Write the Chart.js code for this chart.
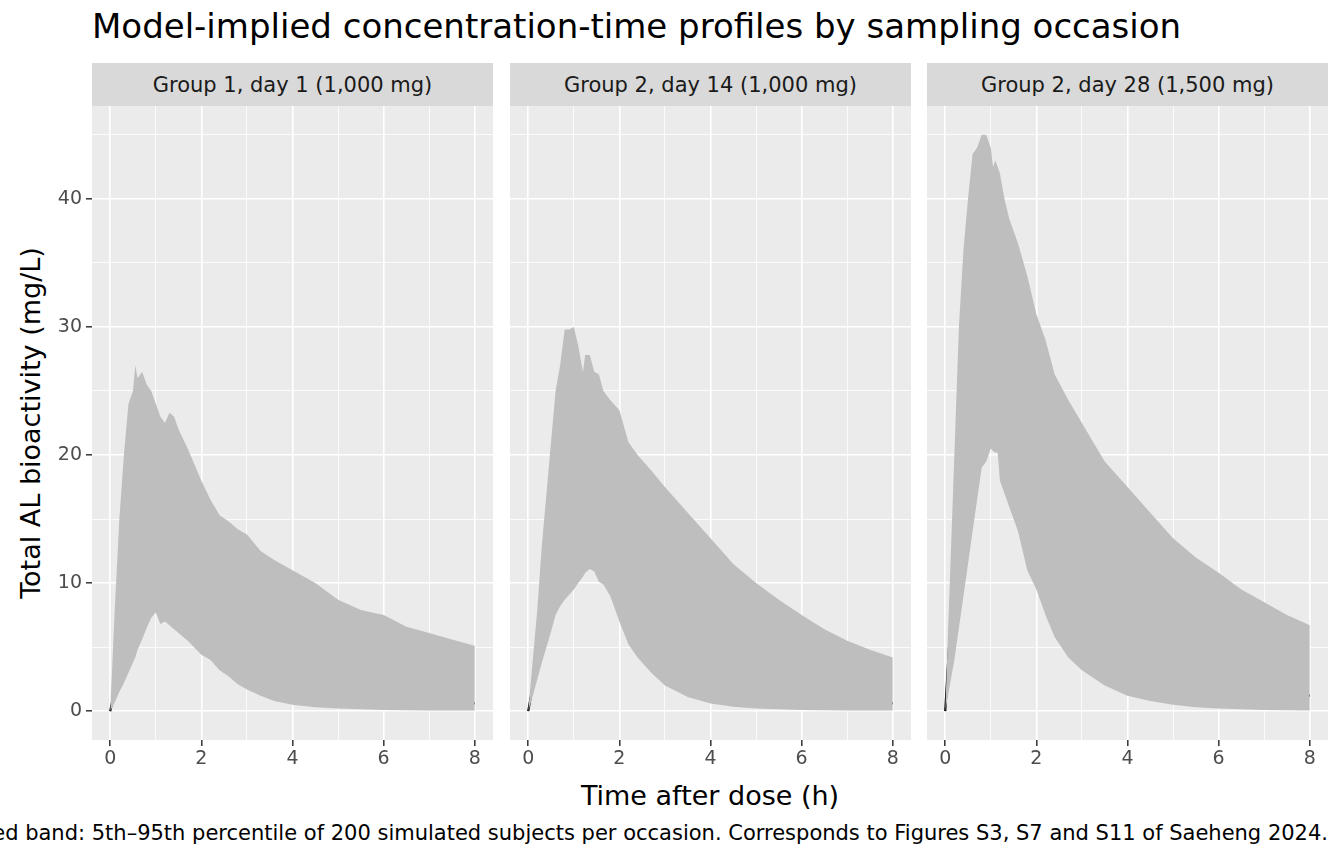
<!DOCTYPE html>
<html><head><meta charset="utf-8">
<script src="https://cdn.jsdelivr.net/npm/chart.js@4"></script>
<style>
body{margin:0;width:1344px;height:864px;background:#fff;font-family:"DejaVu Sans",sans-serif;overflow:hidden;position:relative}
.abs{position:absolute}
.strip{position:absolute;top:63px;height:43px;background:#d9d9d9;color:#1a1a1a;font-size:21px;display:flex;align-items:center;justify-content:center}
</style></head><body>
<div class="abs" style="left:92px;top:6px;font-size:34px;color:#000;white-space:nowrap">Model-implied concentration-time profiles by sampling occasion</div>
<div class="abs" style="left:0;top:423px;width:0;height:0"><div style="position:absolute;transform:translate(-50%,-50%) rotate(-90deg);left:30px;white-space:nowrap;font-size:27px">Total AL bioactivity (mg/L)</div></div>
<div class="abs" style="left:92px;width:1236px;top:780px;text-align:center;font-size:27px">Time after dose (h)</div>
<div class="abs" style="right:16px;top:821px;white-space:nowrap;font-size:21px">Shaded band: 5th–95th percentile of 200 simulated subjects per occasion. Corresponds to Figures S3, S7 and S11 of Saeheng 2024.</div>
<div class="strip" style="left:92px;width:401px">Group 1, day 1 (1,000 mg)</div>
<div class="strip" style="left:510px;width:401px">Group 2, day 14 (1,000 mg)</div>
<div class="strip" style="left:927px;width:401px">Group 2, day 28 (1,500 mg)</div>
<canvas id="c0" class="abs" style="left:0;top:106px"></canvas>
<canvas id="c1" class="abs" style="left:510px;top:106px"></canvas>
<canvas id="c2" class="abs" style="left:927px;top:106px"></canvas>
<script>
const panelTitles=["Group 1, day 1 (1,000 mg)","Group 2, day 14 (1,000 mg)","Group 2, day 28 (1,500 mg)"];
const xTicks=[0,2,4,6,8];
const yTicks=[0,10,20,30,40];
// Panel 1
const band1T=[0,0.1,0.2,0.3,0.4,0.5,0.55,0.6,0.7,0.8,0.9,1.0,1.1,1.2,1.3,1.4,1.5,1.7,2.0,2.2,2.4,2.6,2.8,3.0,3.3,3.6,4,4.5,5,5.5,6,6.5,7,7.5,8];
const upper1=[0,8,15,20,24,25,27,26,26.5,25.5,25,24,23,22.5,23.3,23,22,20.5,18,16.5,15.3,14.8,14.2,13.8,12.5,11.8,11,10,8.7,7.9,7.5,6.6,6.1,5.6,5.1];
const lower1=[0,0.7,1.5,2.2,3,3.8,4.2,4.8,5.6,6.5,7.3,7.7,6.8,7,6.7,6.4,6.1,5.5,4.4,4,3.2,2.7,2.1,1.7,1.2,0.8,0.5,0.3,0.2,0.15,0.1,0.08,0.06,0.05,0.05];
const med1T=[0,0.2,0.4,0.5,0.6,0.7,0.8,0.9,1.0,1.1,1.2,1.4,1.6,1.8,2.0,2.2,2.4,2.6,2.8,3.0,3.2,3.5,4,4.5,5,5.5,6,6.5,7,7.5,8];
const median1=[0,3.5,7.5,10,11.5,13.5,14.2,14.5,14.6,14.7,14,13,12,11,10.2,9.5,8.8,8.2,7.4,6.8,6.2,5.5,4.6,3.7,2.8,2.2,1.7,1.3,1.0,0.8,0.6];
// Panel 2
const band2T=[0,0.1,0.2,0.3,0.4,0.5,0.6,0.7,0.8,0.9,1.0,1.1,1.2,1.25,1.35,1.45,1.55,1.65,1.8,2.0,2.2,2.4,2.7,3.0,3.5,4,4.5,5,5.5,6,6.5,7,7.5,8];
const upper2=[0,4,8,13,17,21,25,27,29.8,29.8,30,28.5,26.5,27.8,27.8,26.5,26.3,25,24.3,23.5,21,20,18.8,17.5,15.5,13.5,11.5,10,8.7,7.5,6.4,5.5,4.8,4.2];
const lower2=[0,1.2,2.5,3.8,5,6.2,7.5,8.2,8.7,9.1,9.5,10,10.5,10.8,11.1,10.9,10.1,9.9,9,7,5.2,4.2,3,2,1.1,0.6,0.35,0.2,0.15,0.1,0.08,0.06,0.05,0.05];
const med2T=[0,0.2,0.4,0.6,0.8,0.9,1.0,1.1,1.2,1.3,1.4,1.5,1.7,1.9,2.1,2.3,2.5,2.7,3.0,3.3,3.6,4,4.5,5,5.5,6,6.5,7,7.5,8];
const median2=[0,4,8.5,13,17,18.2,19,18.8,18.7,18.3,17.5,16.5,15.5,14.3,13,12,11,9.7,8.3,7,6,5.2,4,3.1,2.4,1.8,1.4,1.1,0.8,0.6];
// Panel 3
const band3T=[0,0.1,0.2,0.3,0.4,0.5,0.6,0.7,0.8,0.9,1.0,1.05,1.1,1.15,1.2,1.3,1.4,1.5,1.6,1.8,2.0,2.2,2.4,2.7,3.0,3.5,4,4.5,5,5.5,6,6.5,7,7.5,8];
const upper3=[0,10,20,30,36,40,43.5,44,45,45,44,42.5,43,42.5,42,40,38.5,37.5,36.5,34,31,29,26.3,24.3,22.5,19.5,17.5,15.5,13.5,12,10.8,9.5,8.5,7.5,6.7];
const lower3=[0,2,4,6.5,9,11.5,14,16.5,19,19.5,20.5,20.3,20.2,20.2,18,17,16,15,14,11,9.5,7.5,5.8,4.2,3.2,2,1.2,0.8,0.5,0.3,0.2,0.15,0.1,0.07,0.05];
const med3T=[0,0.1,0.2,0.3,0.4,0.5,0.6,0.7,0.8,0.9,0.95,1.0,1.1,1.2,1.3,1.4,1.5,1.6,1.8,2.0,2.2,2.4,2.6,2.8,3.0,3.3,3.6,4,4.5,5,5.5,6,6.5,7,7.5,8];
const median3=[0,6,12,18,22.5,25.5,28,30.3,31.5,31.8,31.4,31.8,31.5,30,28.5,27.5,26,25,23,20.8,19,17,15.5,14.3,13,11.2,9.8,8.2,6.3,4.9,3.9,3.1,2.5,2,1.6,1.2];

const panels=[[band1T,upper1,lower1,med1T,median1],[band2T,upper2,lower2,med2T,median2],[band3T,upper3,lower3,med3T,median3]];
const pts=(t,v)=>t.map((x,i)=>({x,y:v[i]}));
const bg={id:'bg',beforeDraw(c){const a=c.chartArea,x=c.ctx;x.save();x.fillStyle='#ebebeb';x.fillRect(a.left,a.top,a.right-a.left,a.bottom-a.top);x.restore();}};
panels.forEach((p,i)=>{
  const cv=document.getElementById('c'+i);
  const W=i===0?493:401,H=666;
  cv.width=W;cv.height=H;cv.style.width=W+'px';cv.style.height=H+'px';
  new Chart(cv,{type:'line',
    data:{datasets:[
      {data:pts(p[0],p[1]),borderWidth:0,pointRadius:0,backgroundColor:'#bebebe',fill:'+1',tension:0},
      {data:pts(p[0],p[2]),borderWidth:0,pointRadius:0,fill:false,tension:0},
      {data:pts(p[3],p[4]),borderColor:'#000',borderWidth:2.2,pointRadius:0,fill:false,tension:0}
    ]},
    options:{responsive:false,animation:false,devicePixelRatio:1,
      layout:{padding:0},
      plugins:{legend:{display:false},tooltip:{enabled:false}},
      scales:{
        x:{type:'linear',min:-0.4,max:8.4,afterFit:s=>{s.height=32;s.paddingLeft=0;s.paddingRight=0},
          afterBuildTicks:s=>{s.ticks=[0,1,2,3,4,5,6,7,8].map(v=>({value:v}))},
          ticks:{color:'#4d4d4d',font:{family:'DejaVu Sans',size:19},padding:2,maxRotation:0,autoSkip:false,
            callback:v=>xTicks.includes(v)?String(v):''},
          grid:{color:'#fff',lineWidth:c=>xTicks.includes(c.tick.value)?1.6:0.8,tickLength:6,
            tickColor:c=>xTicks.includes(c.tick.value)?'#333':'transparent',tickWidth:1.5},
          border:{display:false}},
        y:{type:'linear',min:-2.25,max:47.25,afterFit:s=>{s.width=i===0?92:0;s.paddingTop=0;s.paddingBottom=0},
          afterBuildTicks:s=>{s.ticks=[0,5,10,15,20,25,30,35,40,45].map(v=>({value:v}))},
          ticks:{display:i===0,color:'#4d4d4d',font:{family:'DejaVu Sans',size:19},padding:4,
            callback:v=>yTicks.includes(v)?String(v):''},
          grid:{color:'#fff',lineWidth:c=>yTicks.includes(c.tick.value)?1.6:0.8,drawTicks:i===0,tickLength:6,
            tickColor:c=>yTicks.includes(c.tick.value)?'#333':'transparent',tickWidth:1.5},
          border:{display:false}}
      }},
    plugins:[bg]});
});
</script></body></html>
